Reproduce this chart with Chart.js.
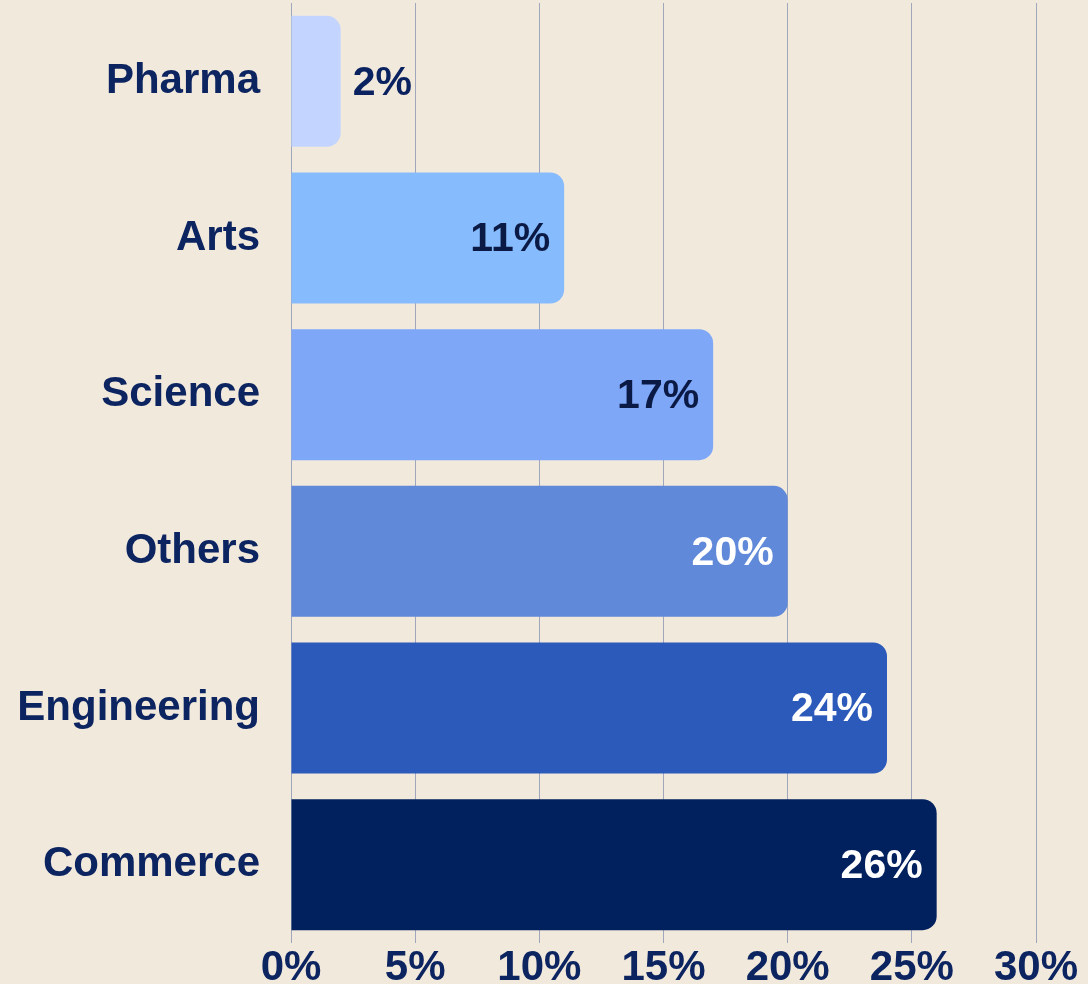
<!DOCTYPE html>
<html>
<head>
<meta charset="utf-8">
<script src="https://cdn.jsdelivr.net/npm/chart.js@4"></script>
<style>
  html, body { margin: 0; padding: 0; background: #f2e9dd; }
  #wrap { width: 1088px; height: 984px; position: relative; }
</style>
</head>
<body>
<div id="wrap"><canvas id="myChart" width="1088" height="984"></canvas></div>
<script>
'use strict';

// data
const categories = ['Pharma', 'Arts', 'Science', 'Others', 'Engineering', 'Commerce'];
const shares = [2, 11, 17, 20, 24, 26];
const barColors = ['#c3d5fe', '#86bbfd', '#7fa7f8', '#6189d9', '#2c5aba', '#00205e'];
const labelColors = ['#0b2260', '#0b1a45', '#0b1a45', '#ffffff', '#ffffff', '#ffffff'];
const xTicks = [0, 5, 10, 15, 20, 25, 30];

const navy = '#0c2460';
const font = "'Liberation Sans', Arial, sans-serif";

// value labels at the end of each bar
const valueLabels = {
  id: 'valueLabels',
  afterDatasetsDraw(chart) {
    const ctx = chart.ctx;
    const meta = chart.getDatasetMeta(0);
    ctx.save();
    ctx.font = 'bold 41px ' + font;
    ctx.textBaseline = 'middle';
    meta.data.forEach((bar, i) => {
      const text = shares[i] + '%';
      const w = ctx.measureText(text).width;
      const inside = (bar.x - bar.base) > w + 30;
      ctx.fillStyle = labelColors[i];
      if (inside) {
        ctx.textAlign = 'right';
        ctx.fillText(text, bar.x - 14, bar.y + 2);
      } else {
        ctx.textAlign = 'left';
        ctx.fillText(text, bar.x + 12, bar.y + 2);
      }
    });
    ctx.restore();
  }
};

const ctx = document.getElementById('myChart').getContext('2d');
new Chart(ctx, {
  type: 'bar',
  data: {
    labels: categories,
    datasets: [{
      data: shares,
      backgroundColor: barColors,
      borderRadius: 14,
      borderSkipped: 'start',
      barPercentage: 0.836,
      categoryPercentage: 1.0
    }]
  },
  options: {
    indexAxis: 'y',
    responsive: false,
    animation: false,
    layout: { padding: { top: 3, right: 52, left: 0, bottom: 0 } },
    scales: {
      x: {
        min: 0,
        max: 30,
        afterBuildTicks(scale) {
          scale.ticks = xTicks.map(v => ({ value: v }));
        },
        afterFit(scale) {
          scale.height = 41;
          scale.paddingLeft = 0;
          scale.paddingRight = 0;
        },
        grid: { color: '#a0a6bc', lineWidth: 1, drawTicks: false },
        border: { display: false },
        ticks: {
          padding: 0,
          color: navy,
          font: { family: font, size: 42, weight: 'bold' },
          callback: v => v + '%'
        }
      },
      y: {
        afterFit(scale) {
          scale.width = 291;
          scale.paddingTop = 0;
          scale.paddingBottom = 0;
        },
        grid: { display: false, drawTicks: false },
        border: { display: false },
        ticks: {
          padding: 31,
          color: navy,
          font: { family: font, size: 42, weight: 'bold' }
        }
      }
    },
    plugins: {
      legend: { display: false },
      tooltip: { enabled: false }
    }
  },
  plugins: [valueLabels]
});
</script>
</body>
</html>
